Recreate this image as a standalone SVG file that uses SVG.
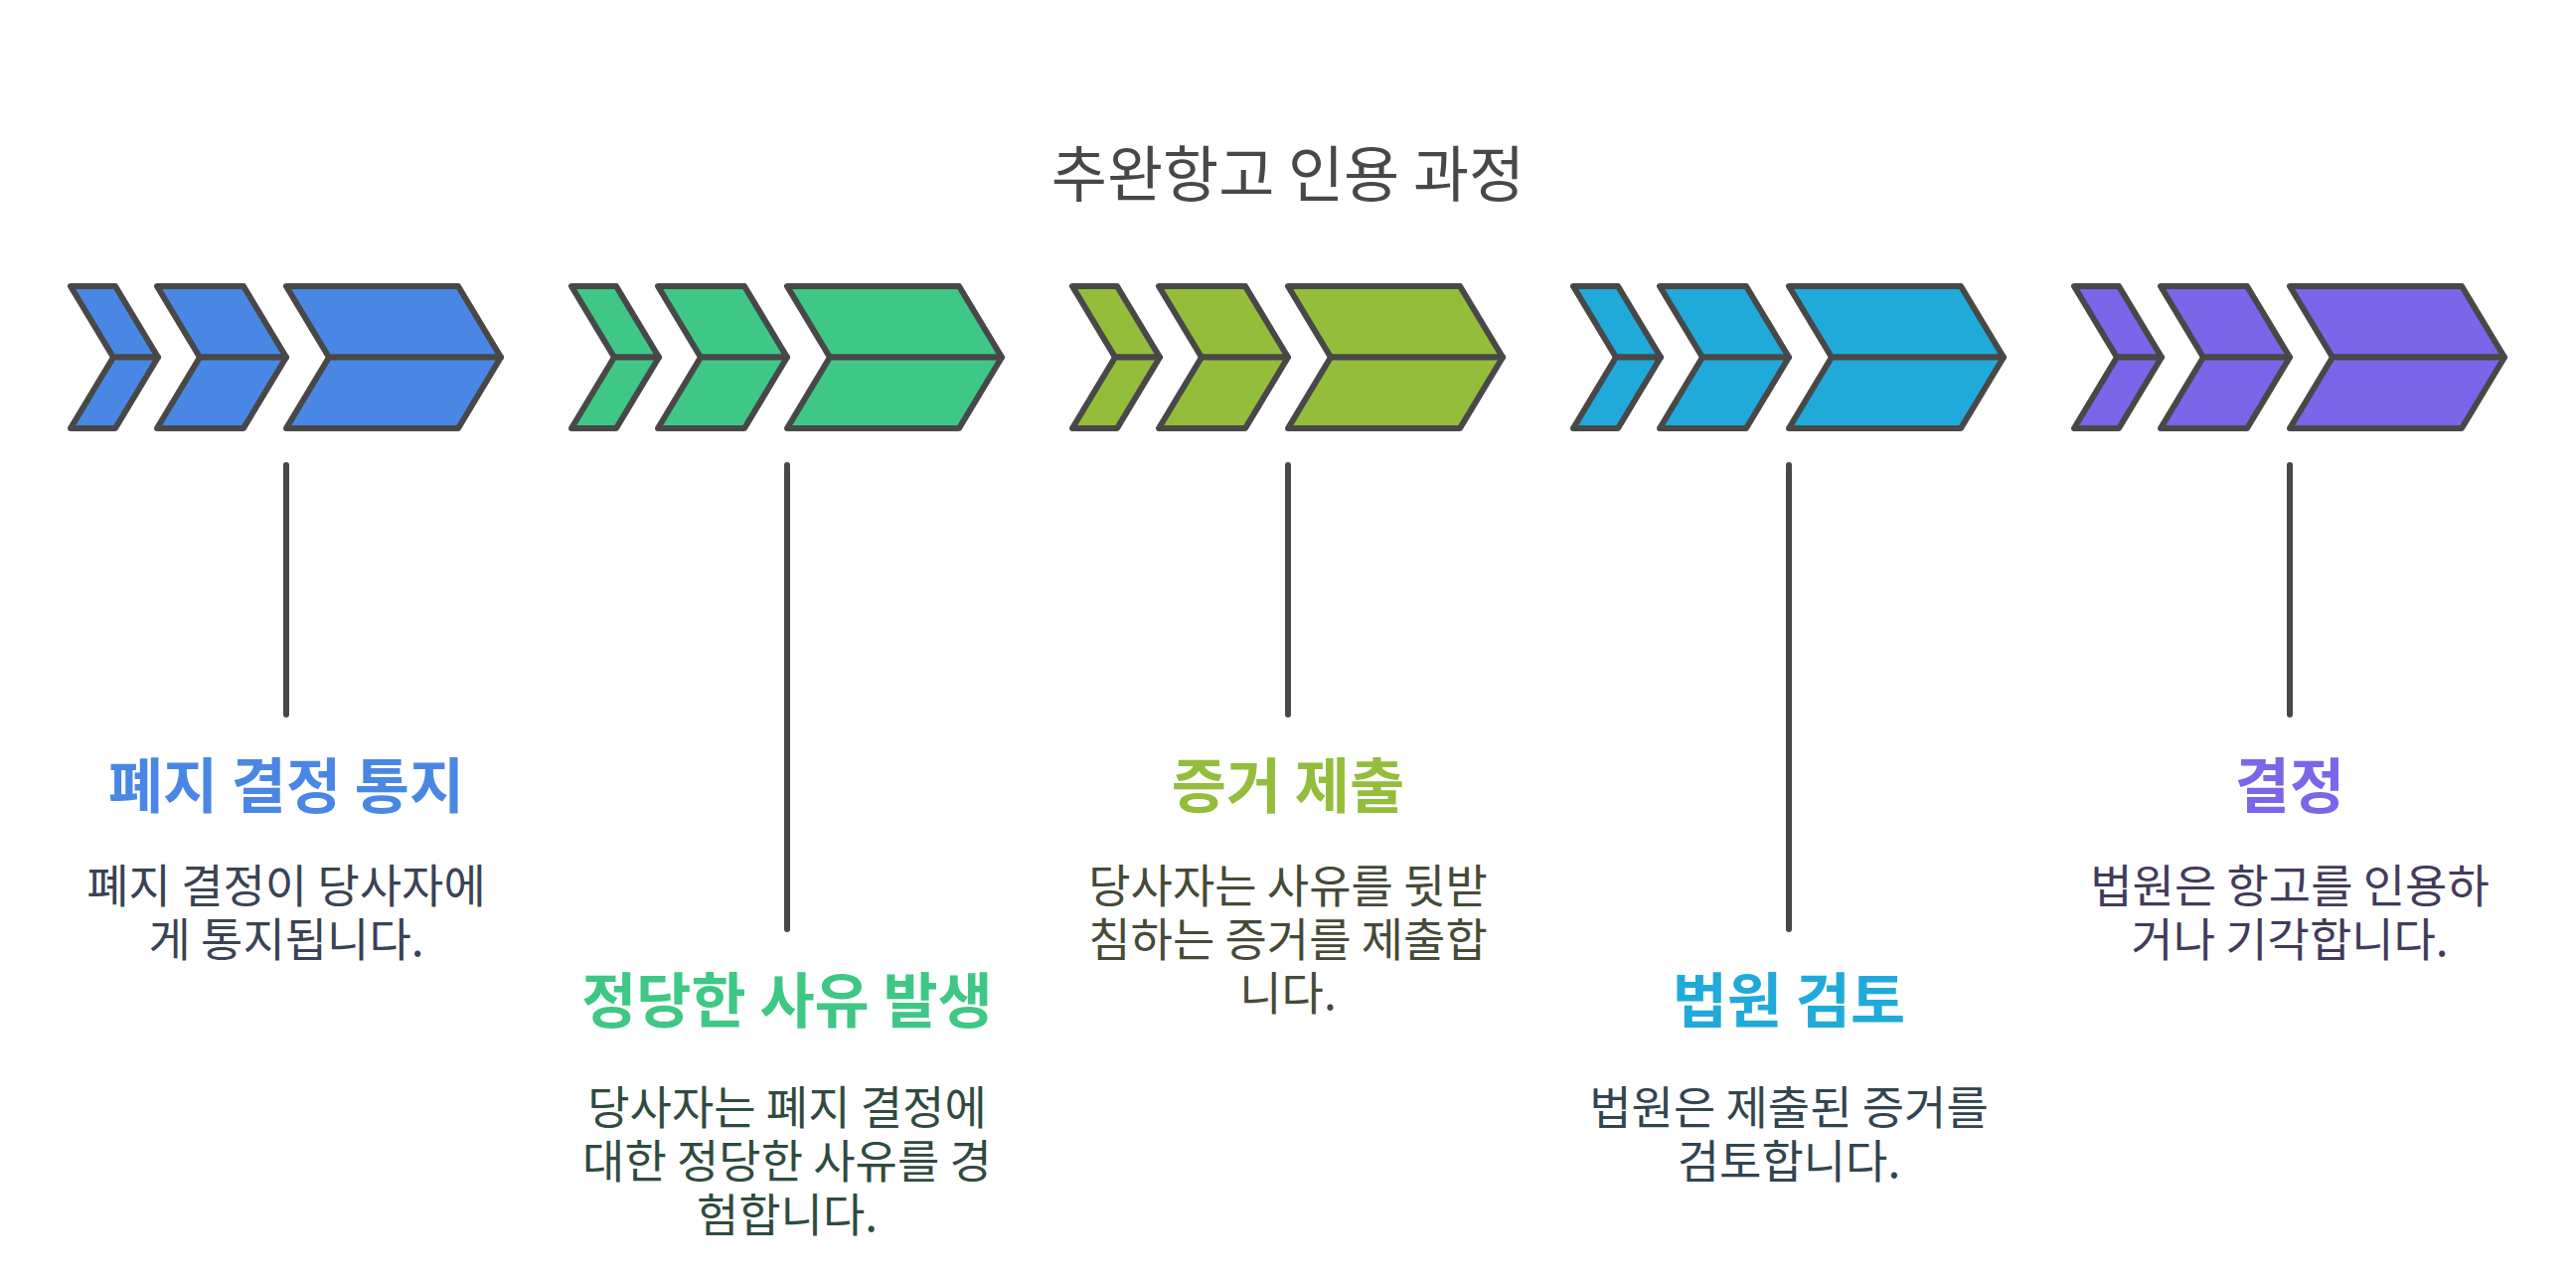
<svg xmlns="http://www.w3.org/2000/svg" width="2592" height="1286" viewBox="0 0 2592 1286">
<defs>
<style>
.chev{stroke:#484848;stroke-width:6;stroke-linejoin:round}
.line{stroke:#484848;stroke-width:6;stroke-linecap:round;fill:none}
.title{font-family:"Noto Sans CJK KR","Noto Sans",sans-serif;font-size:61px;fill:#484848;text-anchor:middle}
.head{font-family:"Noto Sans CJK KR","Noto Sans",sans-serif;font-size:60px;font-weight:700;text-anchor:middle}
.desc{font-family:"Noto Sans CJK KR","Noto Sans",sans-serif;font-size:46px;text-anchor:middle}
</style>
<g id="chevs">
<polygon points="71,288 116,288 159,359.5 114,359.5"/>
<polygon points="114,359.5 159,359.5 116,431 71,431"/>
<polygon points="158,288 245,288 288,359.5 201,359.5"/>
<polygon points="201,359.5 288,359.5 245,431 158,431"/>
<polygon points="288,288 461,288 504,359.5 331,359.5"/>
<polygon points="331,359.5 504,359.5 461,431 288,431"/>
</g>
</defs>
<rect width="2592" height="1286" fill="#ffffff"/>
<text class="title" x="1296" y="198">추완항고 인용 과정</text>

<g id="connectors">
<line class="line" x1="288" y1="468" x2="288" y2="719"/>
<line class="line" x1="792" y1="468" x2="792" y2="935"/>
<line class="line" x1="1296" y1="468" x2="1296" y2="719"/>
<line class="line" x1="1800" y1="468" x2="1800" y2="935"/>
<line class="line" x1="2304" y1="468" x2="2304" y2="719"/>
</g>

<g id="step1">
<use href="#chevs" class="chev" fill="#4a87e4"/>
<text class="head" x="288" y="813" fill="#4a87e4">폐지 결정 통지</text>
<text class="desc" fill="#394353"><tspan x="288" y="908">폐지 결정이 당사자에</tspan><tspan x="288" y="962">게 통지됩니다.</tspan></text>
</g>

<g id="step2">
<use href="#chevs" class="chev" fill="#3ec785" transform="translate(504,0)"/>
<text class="head" x="792" y="1029" fill="#3ec785">정당한 사유 발생</text>
<text class="desc" fill="#2f4b3f"><tspan x="792" y="1131">당사자는 폐지 결정에</tspan><tspan x="792" y="1185">대한 정당한 사유를 경</tspan><tspan x="792" y="1239">험합니다.</tspan></text>
</g>

<g id="step3">
<use href="#chevs" class="chev" fill="#93bd3a" transform="translate(1008,0)"/>
<text class="head" x="1296" y="813" fill="#93bd3a">증거 제출</text>
<text class="desc" fill="#464a36"><tspan x="1296" y="908">당사자는 사유를 뒷받</tspan><tspan x="1296" y="962">침하는 증거를 제출합</tspan><tspan x="1296" y="1016">니다.</tspan></text>
</g>

<g id="step4">
<use href="#chevs" class="chev" fill="#20aad9" transform="translate(1512,0)"/>
<text class="head" x="1800" y="1029" fill="#20aad9">법원 검토</text>
<text class="desc" fill="#31454f"><tspan x="1800" y="1131">법원은 제출된 증거를</tspan><tspan x="1800" y="1185">검토합니다.</tspan></text>
</g>

<g id="step5">
<use href="#chevs" class="chev" fill="#7b65e8" transform="translate(2016,0)"/>
<text class="head" x="2304" y="813" fill="#7b65e8">결정</text>
<text class="desc" fill="#433b5a"><tspan x="2304" y="908">법원은 항고를 인용하</tspan><tspan x="2304" y="962">거나 기각합니다.</tspan></text>
</g>
</svg>
